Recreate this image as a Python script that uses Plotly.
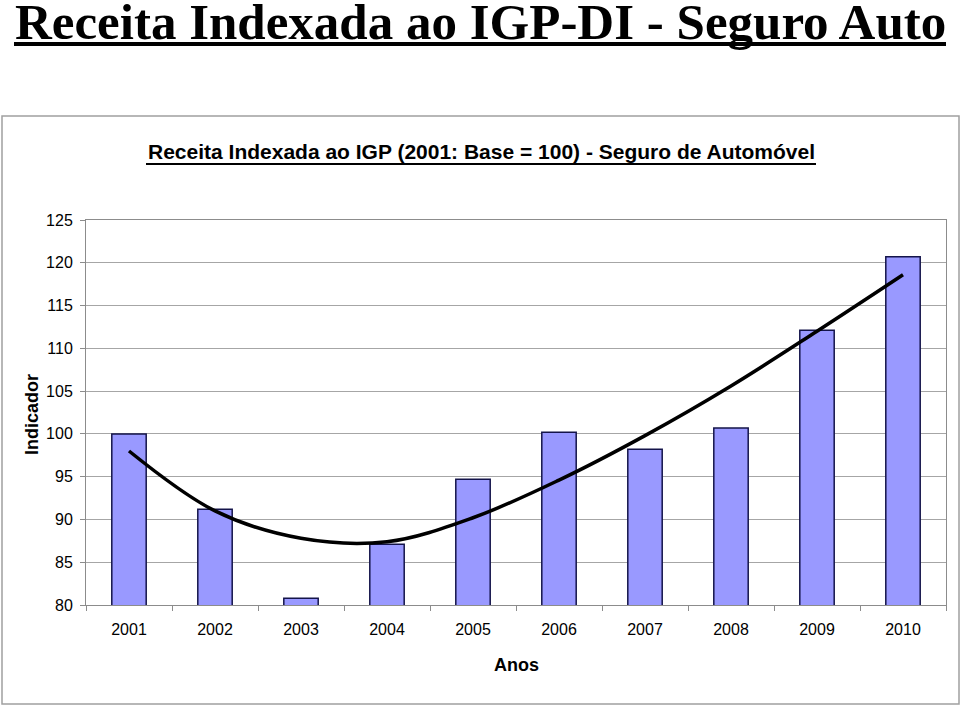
import plotly.graph_objects as go

anos = ["2001", "2002", "2003", "2004", "2005", "2006", "2007", "2008", "2009", "2010"]
indicador = [100.0, 91.2, 80.8, 87.1, 94.7, 100.2, 98.2, 100.7, 112.1, 120.7]
tendencia = [98.0, 91.0, 87.8, 87.4, 90.2, 94.6, 99.8, 105.6, 112.0, 118.6]
y_ticks = [80, 85, 90, 95, 100, 105, 110, 115, 120, 125]

titulo = "Receita Indexada ao IGP-DI - Seguro Auto"
subtitulo = "Receita Indexada ao IGP (2001: Base = 100) - Seguro de Automóvel"

L, R, T, B = 86, 14, 220, 101
W, H = 960, 706
PW, PH = W - L - R, H - T - B


def px_x(px):
    return (px - L) / PW


def px_y(py):
    return (H - B - py) / PH


narrow = "Liberation Sans Narrow, Arial Narrow, Liberation Sans, Arial, sans-serif"
sans = "Liberation Sans, Arial, sans-serif"

fig = go.Figure()
fig.add_trace(go.Bar(
    x=anos, y=indicador,
    marker=dict(color="#9999FF", line=dict(color="#14144a", width=1.5)),
    width=0.4, showlegend=False,
))
fig.add_trace(go.Scatter(
    x=anos, y=tendencia, mode="lines",
    line=dict(color="black", width=3.5, shape="spline"),
    showlegend=False,
))

fig.update_layout(
    width=W, height=H,
    margin=dict(l=L, r=R, t=T, b=B),
    paper_bgcolor="white", plot_bgcolor="white",
    font=dict(family=sans, color="black"),
    xaxis=dict(
        type="category", showgrid=False, showline=True, linecolor="#8c8c8c",
        linewidth=1, mirror=True, ticks="outside", tickson="boundaries",
        ticklen=5, tickcolor="#8c8c8c", ticklabelstandoff=10,
        tickfont=dict(family=sans, size=16, color="black"),
    ),
    yaxis=dict(
        range=[80, 125], tickvals=y_ticks, showgrid=True, gridcolor="#a6a6a6",
        gridwidth=1, showline=True, linecolor="#8c8c8c", linewidth=1, mirror=True,
        ticks="outside", ticklen=5, tickcolor="#8c8c8c", ticklabelstandoff=4,
        tickfont=dict(family=sans, size=16, color="black"), zeroline=False,
    ),
    shapes=[
        dict(type="rect", xref="paper", yref="paper",
             x0=px_x(2), x1=px_x(959), y0=px_y(704), y1=px_y(116),
             line=dict(color="#a0a0a0", width=1.5), fillcolor="rgba(0,0,0,0)", layer="below"),
        dict(type="line", xref="paper", yref="paper",
             x0=px_x(14), x1=px_x(946), y0=px_y(44), y1=px_y(44),
             line=dict(color="black", width=4)),
        dict(type="line", xref="paper", yref="paper",
             x0=px_x(146), x1=px_x(816), y0=px_y(164), y1=px_y(164),
             line=dict(color="black", width=2)),
    ],
    annotations=[
        dict(text="<b>" + titulo + "</b>", xref="paper", yref="paper",
             x=px_x(480), y=px_y(22), xanchor="center", yanchor="middle",
             showarrow=False,
             font=dict(family="Liberation Serif, Times New Roman, serif", size=51, color="black")),
        dict(text="<b>" + subtitulo + "</b>", xref="paper", yref="paper",
             x=px_x(481), y=px_y(152), xanchor="center", yanchor="middle",
             showarrow=False, font=dict(family=narrow, size=21, color="black")),
        dict(text="<b>Anos</b>", xref="paper", yref="paper",
             x=px_x(516), y=px_y(665), xanchor="center", yanchor="middle",
             showarrow=False, font=dict(family=narrow, size=18, color="black")),
        dict(text="<b>Indicador</b>", xref="paper", yref="paper",
             x=px_x(32), y=px_y(414), xanchor="center", yanchor="middle",
             textangle=-90, showarrow=False,
             font=dict(family=sans, size=18, color="black")),
    ],
)

fig.write_html("out.html", config={"displayModeBar": False},
               post_script="document.body.style.margin='0';")
